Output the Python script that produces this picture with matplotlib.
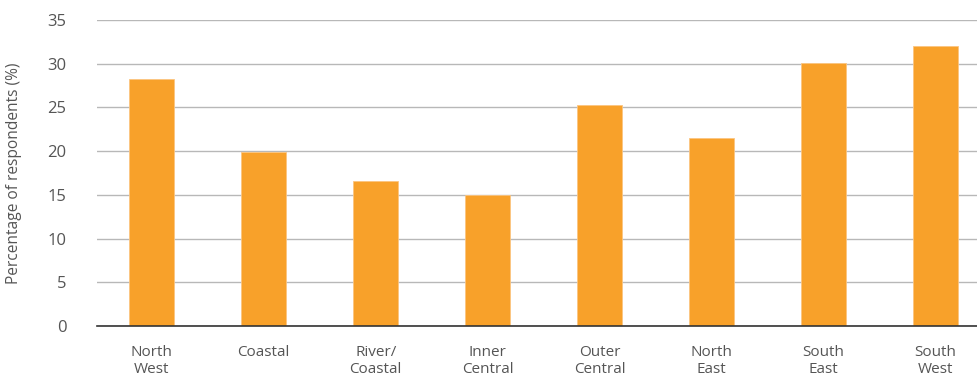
import numpy as np
import matplotlib
matplotlib.use("Agg")
import matplotlib.pyplot as plt

#regions and share of respondents
regions = ["North\nWest", "Coastal", "River/\nCoastal", "Inner\nCentral",
           "Outer\nCentral", "North\nEast", "South\nEast", "South\nWest"]
percent = [28.2, 19.9, 16.6, 15.0, 25.3, 21.5, 30.1, 32.0]
yticks = [0, 5, 10, 15, 20, 25, 30, 35]

plt.rcParams['font.family'] = ['Open Sans', 'DejaVu Sans']

fig = plt.figure(figsize=(9.78, 3.76), dpi=100)
ax = fig.add_axes([97/978, 1-326/376, 1-97/978, 306/376])

x = np.arange(len(regions))
ax.bar(x, percent, width=0.4, color='#f8a12a', edgecolor='#fbc580', linewidth=0.6, zorder=3)

ax.set_xlim(-0.49, len(regions) - 0.62)
ax.set_ylim(0, 35)
ax.set_yticks(yticks)
ax.set_xticks(x)
ax.set_xticklabels(regions, fontsize=11, color='#555555', linespacing=1.1)
ax.tick_params(axis='y', labelsize=12, labelcolor='#555555', length=0, pad=22)
ax.tick_params(axis='x', length=0, pad=14)

ax.grid(axis='y', color='#b8b8b8', linewidth=1)
ax.set_axisbelow(True)
for side in ['left', 'right', 'top']:
    ax.spines[side].set_visible(False)
ax.spines['bottom'].set_color('#333333')
ax.spines['bottom'].set_linewidth(1.2)
ax.spines['bottom'].set_zorder(4)

ax.set_ylabel('Percentage of respondents (%)', fontsize=11.2, color='#555555')
ax.yaxis.set_label_coords(-75/881, 0.5)

fig.savefig('out.png', dpi=100)
